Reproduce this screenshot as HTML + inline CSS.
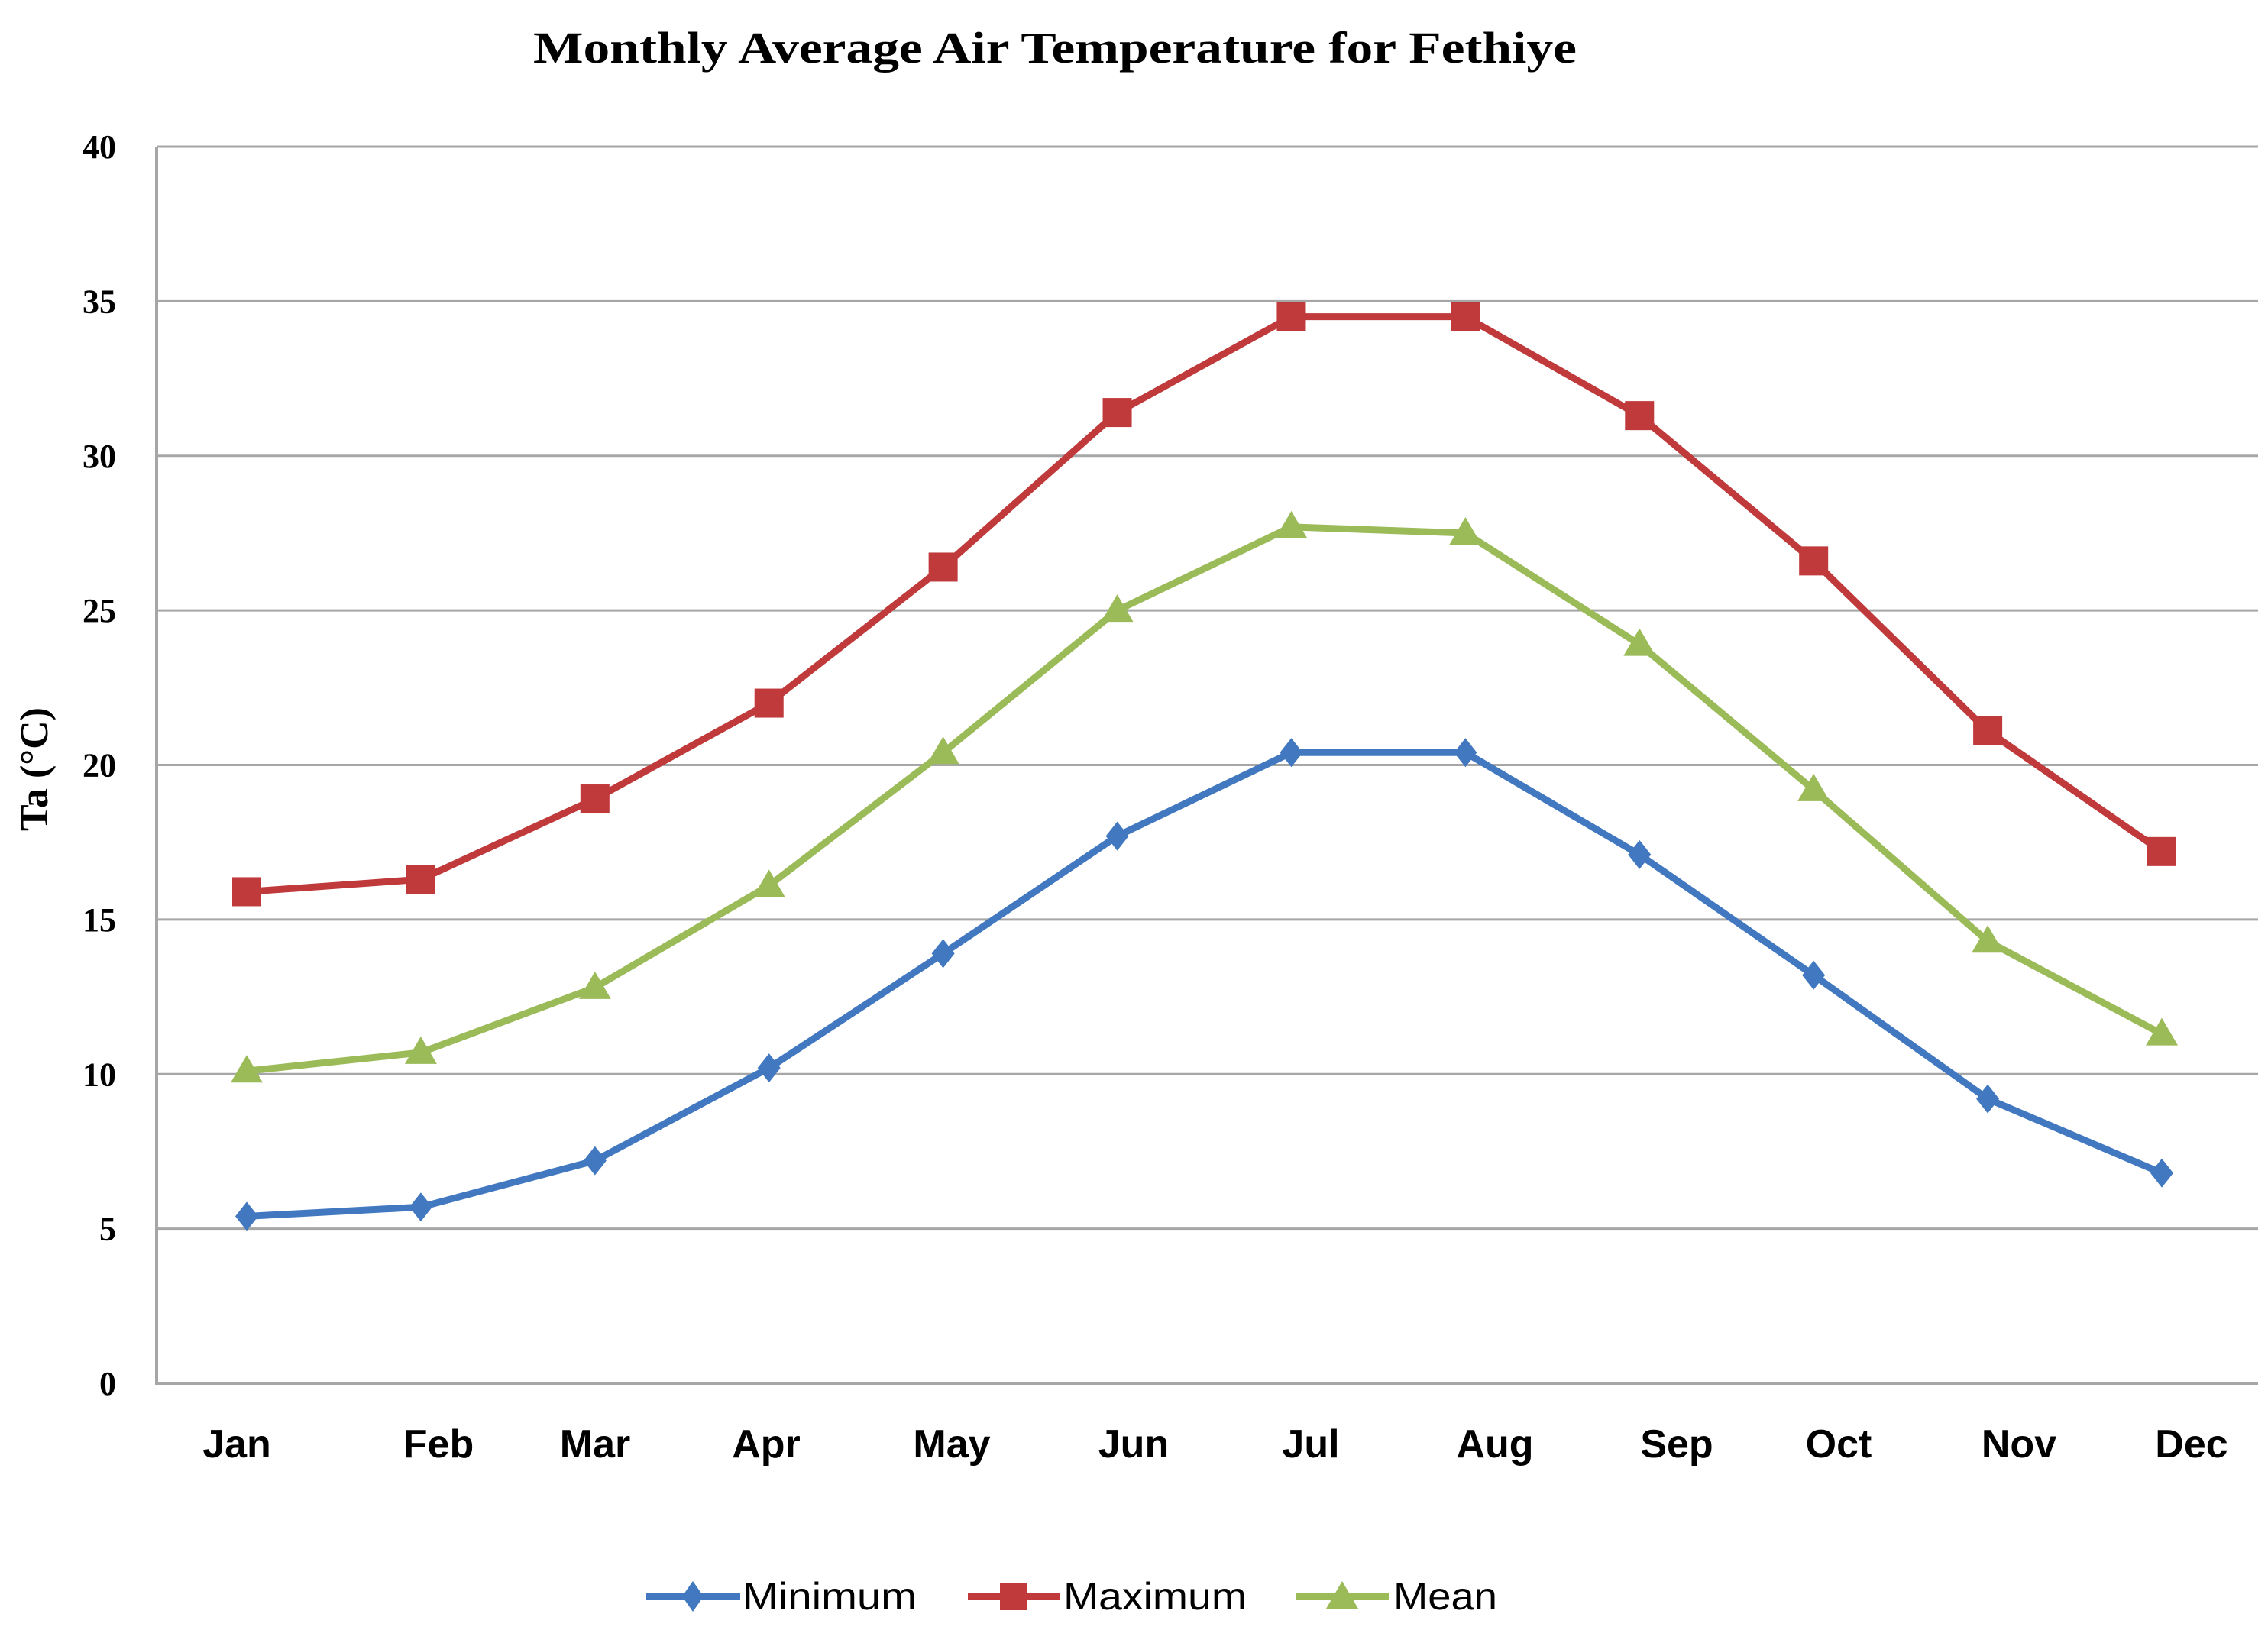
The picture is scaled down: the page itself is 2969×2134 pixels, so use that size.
<!DOCTYPE html>
<html><head><meta charset="utf-8"><style>html,body{margin:0;padding:0;background:#fff;}svg{display:block}</style></head>
<body>
<svg id="chart" width="2969" height="2134" viewBox="0 0 2969 2134" xmlns="http://www.w3.org/2000/svg">
<text x="1381" y="82" text-anchor="middle" font-family="Liberation Serif, serif" font-weight="bold" font-size="58" textLength="1366" lengthAdjust="spacingAndGlyphs">Monthly Average Air Temperature  for Fethiye</text>
<text transform="translate(62,1007) rotate(-90)" text-anchor="middle" font-family="Liberation Serif, serif" font-weight="bold" font-size="52">Ta (°C)</text>
<g id="grid"></g><g id="series"></g>
<g id="xlabels" font-family="Liberation Sans, sans-serif" font-weight="bold" font-size="52" text-anchor="middle"></g>
<g font-family="Liberation Sans, sans-serif" font-size="50">
 <g>
  <line x1="846" y1="2090" x2="969" y2="2090" stroke="#4178c0" stroke-width="10"/>
  <path d="M907 2070 L921 2090 L907 2110 L893 2090Z" fill="#4178c0"/>
  <text x="972" y="2107" textLength="228" lengthAdjust="spacingAndGlyphs">Minimum</text></g>
 <g>
  <line x1="1267" y1="2090" x2="1387" y2="2090" stroke="#c0393b" stroke-width="10"/>
  <rect x="1309" y="2072" width="36" height="36" fill="#c0393b"/>
  <text x="1392" y="2107" textLength="240" lengthAdjust="spacingAndGlyphs">Maximum</text></g>
 <g>
  <line x1="1697" y1="2090" x2="1818" y2="2090" stroke="#9bbb59" stroke-width="10"/>
  <path d="M1757 2070 L1778 2106 L1736 2106Z" fill="#9bbb59"/>
  <text x="1824" y="2107" textLength="136" lengthAdjust="spacingAndGlyphs">Mean</text></g>
</g>
</svg>
<script>
const months = ["Jan","Feb","Mar","Apr","May","Jun","Jul","Aug","Sep","Oct","Nov","Dec"];
const minimumValues = [5.4,5.7,7.2,10.2,13.9,17.7,20.4,20.4,17.1,13.2,9.2,6.8];
const maximumValues = [15.9,16.3,18.9,22.0,26.4,31.4,34.5,34.5,31.3,26.6,21.1,17.2];
const meanValues = [10.1,10.7,12.8,16.1,20.4,25.0,27.7,27.5,23.9,19.2,14.3,11.3];
const yTicks = [0,5,10,15,20,25,30,35,40];

const NS = "http://www.w3.org/2000/svg";
const L = 205, R = 2956, Y0 = 1811, Y40 = 192;
const x = i => 323 + i * (2830 - 323) / 11;
const y = v => Y0 - (v / 40) * (Y0 - Y40);
const labelX = [310,574,779,1003,1246,1484,1716,1957,2195,2407,2643,2869];

function mk(tag, attrs, parent) { const e = document.createElementNS(NS, tag); for (const k in attrs) e.setAttribute(k, attrs[k]); parent.appendChild(e); return e; }

const grid = document.getElementById("grid");
yTicks.forEach(t => {
  if (t > 0) {
    const g = mk("line", {x1: L, x2: R, y1: y(t), y2: y(t), stroke: "#a6a6a6", "stroke-width": 3}, grid);
    
    
  }
  const tl = mk("text", {x: 152, y: y(t) + 15, "text-anchor": "end", "font-family": "Liberation Serif, serif", "font-weight": "bold", "font-size": "44"}, grid);
  tl.textContent = t;
  
  
});
const ax = mk("path", {d: `M${L} ${Y40} L${L} ${Y0} L${R} ${Y0}`, fill: "none", stroke: "#a6a6a6", "stroke-width": 4}, grid);



const xl = document.getElementById("xlabels");
months.forEach((m, i) => {
  const t = mk("text", {x: labelX[i], y: 1908}, xl);
  t.textContent = m;
  
  
});

const ser = document.getElementById("series");
function drawSeries(vals, color, kind, name) {
  const g = mk("g", {}, ser);
  
  
  const ln = mk("polyline", {points: vals.map((v, i) => x(i) + "," + y(v)).join(" "), fill: "none", stroke: color, "stroke-width": 9, "stroke-linejoin": "round"}, g);
  
  
  vals.forEach((v, i) => {
    const cx = x(i), cy = y(v);
    let m;
    if (kind === "diamond") m = mk("path", {d: `M${cx} ${cy-19} L${cx+15} ${cy} L${cx} ${cy+19} L${cx-15} ${cy}Z`, fill: color}, g);
    else if (kind === "square") m = mk("rect", {x: cx-19, y: cy-19, width: 38, height: 38, fill: color}, g);
    else m = mk("path", {d: `M${cx} ${cy-21} L${cx+21} ${cy+15} L${cx-21} ${cy+15}Z`, fill: color}, g);
    
    
  });
}
drawSeries(minimumValues, "#4178c0", "diamond", "minimum");
drawSeries(maximumValues, "#c0393b", "square", "maximum");
drawSeries(meanValues, "#9bbb59", "triangle", "mean");
</script>
</body></html>
